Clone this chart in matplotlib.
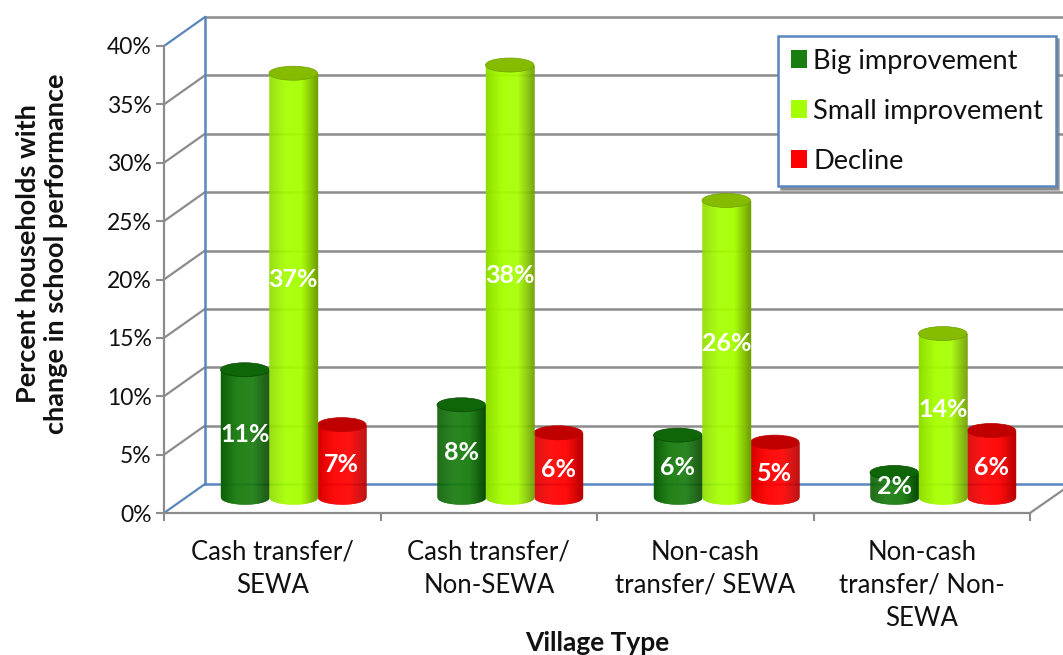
import numpy as np
import matplotlib
matplotlib.use("Agg")
import matplotlib.pyplot as plt
from matplotlib.patches import Ellipse, Patch
from matplotlib.colors import LinearSegmentedColormap
from matplotlib.transforms import offset_copy

plt.rcParams['font.family'] = ['Lato', 'DejaVu Sans']

# values
categories = ["Cash transfer/\nSEWA", "Cash transfer/\nNon-SEWA", "Non-cash\ntransfer/ SEWA", "Non-cash\ntransfer/ Non-\nSEWA"]
series_names = ["Big improvement", "Small improvement", "Decline"]
big = [10.9, 7.9, 5.3, 2.1]
small = [36.3, 37.0, 25.4, 14.0]
decline = [6.2, 5.5, 4.7, 5.7]
big_labels = ["11%", "8%", "6%", "2%"]
small_labels = ["37%", "38%", "26%", "14%"]
decline_labels = ["7%", "6%", "5%", "6%"]
yticks = [0, 5, 10, 15, 20, 25, 30, 35, 40]

W, H = 1063, 655
fig = plt.figure(figsize=(W / 100, H / 100), dpi=100)
ax = fig.add_axes([164 / W, (H - 513) / H, 866 / W, 467 / H])
ax.set_xlim(0, 4)
ax.set_ylim(0, 40)

# depth of the fake 3d box
dx = 41 / 866 * 4
dy = 29 / 467 * 40
GRAY = "#8c8c8c"
BLUE = "#5b86bd"
TEXT = "#111111"

# back wall and side wall
for t in yticks:
    c = BLUE if t == 0 else GRAY
    ax.plot([dx, 4.3], [t + dy, t + dy], color=c, lw=1.8, clip_on=False, zorder=1)
    ax.plot([0, dx], [t, t + dy], color=BLUE if t in (0, 40) else GRAY, lw=1.6, clip_on=False, zorder=1)
ax.plot([dx, dx], [dy, 40 + dy], color=BLUE, lw=1.8, clip_on=False, zorder=1)
ax.plot([4, 4 + 33 / 866 * 4], [0, 23 / 467 * 40], color=GRAY, lw=1.6, clip_on=False, zorder=1)

for s in ["top", "right"]:
    ax.spines[s].set_visible(False)
for s in ["left", "bottom"]:
    ax.spines[s].set_color(GRAY)
    ax.spines[s].set_linewidth(1.6)
ax.patch.set_alpha(0)
ax.set_xticks(range(5))
ax.set_xticklabels([])
ax.set_yticks(yticks)
ax.set_yticklabels(["%d%%" % t for t in yticks], fontsize=16.5, color=TEXT)
ax.tick_params(axis="both", length=6, width=1.5, color=GRAY)
ax.tick_params(axis="y", pad=3)

for i, c in enumerate(categories):
    ax.text(i + 0.5, -2.3, c, ha="center", va="top", fontsize=18.5, color=TEXT, linespacing=1.4)
ax.text(2.0, -11.15, "Village Type", ha="center", va="center", fontsize=19, fontweight="bold", color=TEXT)
fig.text(42 / W, 1 - 254 / H, "Percent households with\nchange in school performance", rotation=90,
         ha="center", va="center", fontsize=19.5, fontweight="bold", color=TEXT, linespacing=1.2)

# cylinders
base = 16 / 467 * 40
bar_w = 48.5 / 866 * 4
ell_h = 14 / 467 * 40
colors = [
    {"left": "#0d5f07", "mid": "#1a7d10", "right": "#0a4a04", "top": "#0f6608", "key": "#1a7d10"},
    {"left": "#8fdc00", "mid": "#a6ff00", "right": "#6f9f00", "top": "#86bc00", "key": "#a6ff00"},
    {"left": "#d80000", "mid": "#ff0000", "right": "#b80000", "top": "#c00000", "key": "#ff0000"},
]


def cylinder(x, h, col, z):
    # thin vertical strips give the shading, the lower ends follow the round base
    y1 = base + h
    cm = LinearSegmentedColormap.from_list("c", [col["left"], col["mid"], col["mid"], col["right"]], N=128)
    n = 48
    edges = np.linspace(-1, 1, n + 1)
    for j in range(n):
        u = np.array([edges[j], edges[j + 1]])
        xs = x + u * bar_w / 2
        low = base - ell_h / 2 * np.sqrt(1 - u ** 2)
        ax.fill_between(xs, low, y1, color=cm((j + 0.5) / n), lw=0.3, zorder=z, clip_on=False)
    ax.add_patch(Ellipse((x, y1), bar_w, ell_h, fc=col["top"], ec=col["right"], lw=0.5, zorder=z + 0.1, clip_on=False))


series = [big, small, decline]
labels = [big_labels, small_labels, decline_labels]
offsets = [-bar_w, 0, bar_w]
label_shift = [-1, 4, -3]  # points, labels do not sit exactly mid bar
for i in range(4):
    cx = i + 0.597
    for k in [0, 2, 1]:
        h = series[k][i]
        cylinder(cx + offsets[k], h, colors[k], 3 + k % 2)
        tr = offset_copy(ax.transData, fig=fig, y=label_shift[k], units="points")
        ax.text(cx + offsets[k], base + h / 2, labels[k][i], color="white", fontsize=18, fontweight="bold",
                ha="center", va="center", zorder=6, transform=tr)

ax.set_xlim(0, 4)
ax.set_ylim(0, 40)

handles = [Patch(fc=c["key"], ec="none") for c in colors]
leg = ax.legend(handles, series_names, loc="upper left", bbox_to_anchor=(778 / W, 1 - 36 / H),
                bbox_transform=fig.transFigure, fontsize=19.6, frameon=True, fancybox=False,
                shadow={"color": "#777777", "alpha": 0.7},
                edgecolor=BLUE, framealpha=1, borderaxespad=0, handlelength=0.6, handleheight=0.6, handletextpad=0.23,
                labelspacing=0.92, borderpad=0.46)
leg.get_frame().set_linewidth(1.8)
leg.set_zorder(10)
for t in leg.get_texts():
    t.set_color(TEXT)

fig.savefig("out.png", dpi=100)
